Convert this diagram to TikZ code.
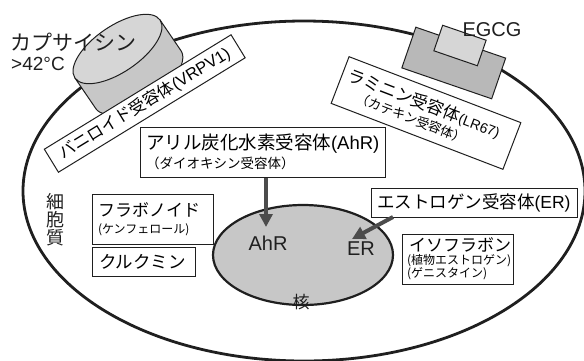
\documentclass[tikz,border=0pt]{standalone}
\usepackage{fontspec}
\setmainfont{Liberation Sans}
\newfontfamily\jp{Noto Sans CJK JP}
\usetikzlibrary{arrows.meta}

\newcommand\fsz[1]{\fontsize{#1}{#1}\selectfont}

\definecolor{ink}{gray}{0.12}
\definecolor{nucfill}{gray}{0.78}
\definecolor{capside}{gray}{0.78}
\definecolor{captop}{gray}{0.84}
\definecolor{lrfill}{gray}{0.72}
\definecolor{egcgfill}{gray}{0.84}
\definecolor{arrowgray}{gray}{0.30}

\tikzset{
  membrane/.style={draw=ink, line width=2.8pt},
  box/.style={draw=ink, line width=1pt, fill=white, inner ysep=0pt, inner xsep=6pt, align=left},
  rbox/.style={draw=ink, line width=1pt, fill=white, inner sep=0pt, align=left},
  solid3d/.style={draw=ink, line width=1pt},
  bigarrow/.style={draw=arrowgray, line width=4pt, -{Triangle[length=13pt,width=13pt]}},
  plain/.style={inner sep=0pt, text=ink},
}

\begin{document}
\begin{tikzpicture}[x=1pt, y=-1pt]
\useasboundingbox (0,0) rectangle (584,360);

% cell membrane
\path[membrane] (304,191) ellipse [x radius=281, y radius=170];

% capsaicin receptor channel (cylinder)
\begin{scope}[shift={(117.5,49)}, rotate=34.3]
  \path[solid3d, fill=capside] (-51.5,0) -- (-51.5,37)
    -- plot[domain=180:0, samples=60] ({51.5*cos(\x)}, {37+23*sin(\x)})
    -- (51.5,0) -- cycle;
  \path[solid3d, fill=captop] (0,0) ellipse [x radius=51.5, y radius=23];
\end{scope}

% vanilloid receptor bar
\node[rbox, rotate=31.5, minimum width=219pt, minimum height=27pt, align=center]
  (vr) at (144.75,103.5) {\fsz{16.5}{\jp バニロイド受容体}(VRPV1)};

% laminin receptor with bound EGCG
\node[solid3d, fill=lrfill, rotate=-19, minimum width=95pt, minimum height=43pt, inner sep=0pt]
  (lrblock) at (453.75,63) {};
\node[solid3d, fill=egcgfill, rotate=-19, minimum width=46pt, minimum height=27pt, inner sep=0pt]
  (egcgblock) at (460,45.5) {};
\node[rbox, rotate=-21, minimum width=184pt, minimum height=50pt, text width=172pt, inner xsep=6pt]
  (lr) at (426,113) {\fsz{17}{\jp ラミニン受容体}{\fsz{14}(LR67)}\\[2pt]
   \hspace*{16pt}\fsz{13}{\jp （カテキン受容体）}};

% nucleus
\path[draw=ink, line width=2.2pt, fill=nucfill] (303,255) ellipse [x radius=90, y radius=50];

% receptor and compound boxes
\node[box, text width=233pt, minimum height=50pt] (ahr) at (262.5,152)
  {\fsz{18.5}{\jp アリル炭化水素受容体}(AhR)\\[3pt]\fsz{13.5}{\jp （ダイオキシン受容体）}};
\node[box, text width=109pt, minimum height=50pt] (flav) at (152.5,219)
  {\fsz{17}{\jp フラボノイド}\\[5pt]\fsz{12}{\jp (ケンフェロール)}};
\node[box, text width=89pt, minimum height=29pt, inner xsep=7pt] (curc) at (143.5,261.5)
  {\fsz{17.5}{\jp クルクミン}};
\node[box, text width=194pt, minimum height=29pt] (er) at (474,202.5)
  {\fsz{17.5}{\jp エストロゲン受容体}(ER)};
\node[box, text width=101pt, minimum height=50pt, inner xsep=5pt] (iso) at (457.5,259)
  {\fsz{17}{\jp\hspace*{2pt}イソフラボン}\\[1pt]\fsz{12}{\jp (植物エストロゲン)}\\\fsz{12}{\jp (ゲニスタイン)}};

% arrows into the nucleus
\coordinate (ahrtip) at (266,227);
\coordinate (ertail) at (393,217);
\coordinate (ertip) at (352,239);
\draw[bigarrow] (ahrtip |- ahr.south) -- (ahrtip);
\draw[bigarrow] (ertail) -- (ertip);

% labels
\node[plain] (ahrlbl) at (268,243) {\fsz{20}AhR};
\node[plain] (erlbl) at (361,249) {\fsz{20}ER};
\node[plain, font=\jp] (nuclbl) at (301,302) {\fsz{17}核};
\node[plain, align=center, font={\fontsize{18}{18}\selectfont\jp}] (cyto) at (55,220) {細\\胞\\質};
\node[plain, anchor=west] (caps) at (10,42) {\fsz{21}\jp カプサイシン};
\node[plain, anchor=west] (temp) at (11,64) {\fsz{19}>42°C};
\node[plain] (egcg) at (492,30) {\fsz{20}EGCG};
\end{tikzpicture}
\end{document}
